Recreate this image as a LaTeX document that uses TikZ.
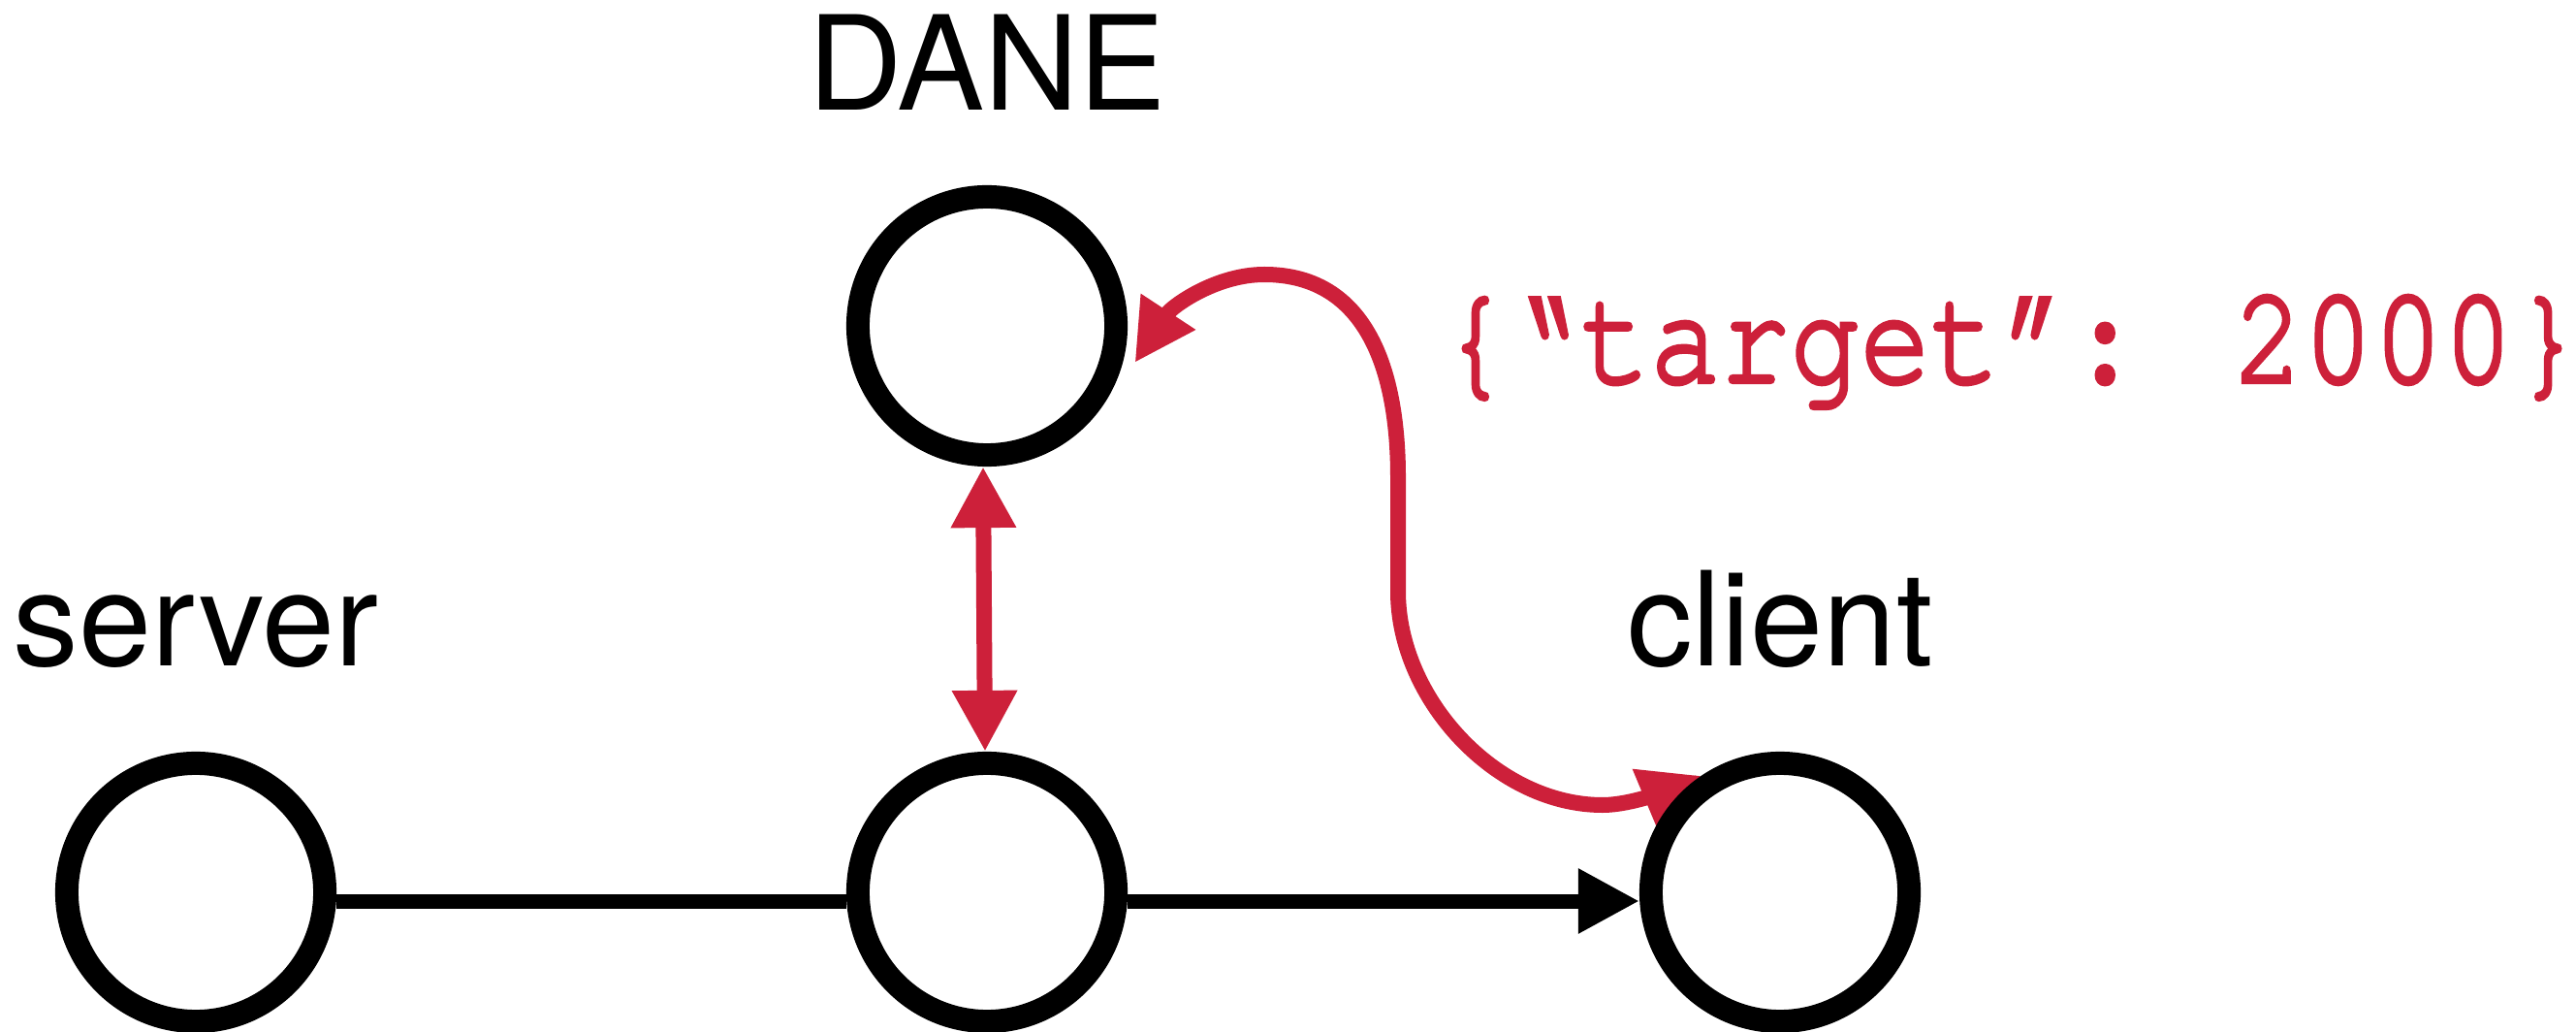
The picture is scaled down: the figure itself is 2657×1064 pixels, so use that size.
\documentclass[tikz,border=0pt]{standalone}
\usepackage{fontspec}
\setmainfont{TeX Gyre Heros}
\newfontfamily\codefont[FakeBold=3]{TeX Gyre Cursor}
\usetikzlibrary{arrows.meta}
\definecolor{dred}{RGB}{205,32,58}
\pgfdeclarelayer{bg}
\pgfsetlayers{bg,main}
\tikzset{
  ring/.style={circle, draw=black, line width=0.24cm, fill=white, minimum size=2.66cm, inner sep=0pt},
  lbl/.style={anchor=base, inner sep=0pt, font=\fontsize{38.4}{46}\selectfont},
  codetext/.style={anchor=base west, inner sep=0pt, text=dred, yscale=1.2, font=\codefont\fontsize{34.2}{41}\selectfont},
  blackline/.style={line width=0.15cm, draw=black},
  redline/.style={line width=0.16cm, draw=dred},
  >={Triangle[length=0.63cm,width=0.63cm]}
}
\begin{document}
\begin{tikzpicture}[x=0.01cm,y=-0.01cm]
\useasboundingbox (0,0) rectangle (2657,1064);
% nodes
\node[ring] (top)    at (1018,336) {};
\node[ring] (server) at (202,920)  {};
\node[ring] (mid)    at (1018,920) {};
\node[ring] (client) at (1836,920) {};
% labels
\node[lbl] (dane)   at (1018,114) {DANE};
\node[lbl] (srvlbl) at (202,686)  {server};
\node[lbl] (clilbl) at (1836,686) {client};
\node[codetext, transform shape] (code) at (1485,394) {\{“target”: 2000\}};
% connectors
\begin{pgfonlayer}{bg}
\fill[white] (0,0) rectangle (2657,1064);
\draw[blackline] ([yshift=-0.09cm]server.east) -- ([yshift=-0.09cm]mid.west);
\draw[blackline,->] ([yshift=-0.09cm]mid.east) -- ([yshift=-0.09cm]client.west);
\draw[redline,<->] ([xshift=-0.04cm]top.south) -- ([xshift=-0.02cm]mid.north);
\draw[redline,<->] ([shift={(-14:1.57cm)}]top.center)
  .. controls (1208.5,316) and (1254,283) .. (1304,283)
  .. controls (1404,283) and (1442,372) .. (1442,492)
  -- (1442,610)
  .. controls (1442,720) and (1543,830) .. (1653,830)
  .. controls (1683,830) and (1722,813.5) .. (client.124);
\end{pgfonlayer}
\end{tikzpicture}
\end{document}
